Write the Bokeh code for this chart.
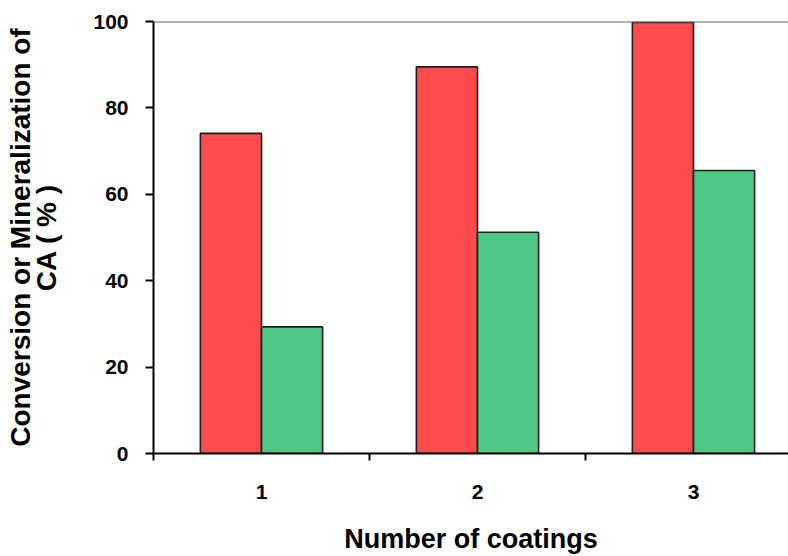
from bokeh.plotting import figure
from bokeh.models import Range1d, FixedTicker, Span, ColumnDataSource, LinearAxis
from bokeh.embed import file_html
from bokeh.resources import INLINE

# Data
categories = ["1", "2", "3"]
conversion = [74.1, 89.5, 99.8]
mineralization = [29.3, 51.2, 65.5]
y_ticks = [0, 20, 40, 60, 80, 100]

x_pos = [i + 1 for i in range(len(categories))]
bar_w = 0.283
src = ColumnDataSource(dict(
    x_red=[x - bar_w / 2 for x in x_pos],
    x_green=[x + bar_w / 2 for x in x_pos],
    conv=conversion,
    mine=mineralization,
))

p = figure(width=788, height=556, output_backend="svg", toolbar_location=None,
           x_range=Range1d(0.5, 3.44), y_range=Range1d(0, 100),
           min_border_left=153, min_border_right=0, min_border_top=21, min_border_bottom=102)

p.vbar(x="x_red", top="conv", width=bar_w, bottom=0, source=src,
       fill_color="#ff4b4b", line_color="#1e1e1e", line_width=1.6)
p.vbar(x="x_green", top="mine", width=bar_w, bottom=0, source=src,
       fill_color="#4dc884", line_color="#1e1e1e", line_width=1.6)

p.add_layout(Span(location=100, dimension="width", line_color="#666666", line_width=2))

p.grid.visible = False
p.outline_line_color = None
p.background_fill_color = "white"
p.border_fill_color = "white"

font = "Liberation Sans"

# x axis
xa = p.xaxis[0]
xa.ticker = FixedTicker(ticks=x_pos, minor_ticks=[0.5, 1.5, 2.5, 3.5])
xa.major_label_overrides = {x: c for x, c in zip(x_pos, categories)}
xa.major_tick_line_color = None
xa.major_tick_out = 0
xa.major_tick_in = 0
xa.minor_tick_out = 7
xa.minor_tick_in = 0
xa.minor_tick_line_color = "black"
xa.minor_tick_line_width = 2
xa.axis_line_color = "black"
xa.axis_line_width = 2
xa.major_label_standoff = 24
xa.major_label_text_font = font
xa.major_label_text_font_style = "bold"
xa.major_label_text_font_size = "21px"
xa.major_label_text_color = "black"
xa.axis_label = "Number of coatings"
xa.axis_label_text_font = font
xa.axis_label_text_font_style = "bold"
xa.axis_label_text_font_size = "27px"
xa.axis_label_text_color = "black"
xa.axis_label_standoff = 22

# y axis (inner: ticks + second label line)
ya = p.yaxis[0]
ya.ticker = FixedTicker(ticks=y_ticks, minor_ticks=[])
ya.major_tick_out = 8
ya.major_tick_in = 0
ya.major_tick_line_width = 2
ya.major_tick_line_color = "black"
ya.minor_tick_line_color = None
ya.axis_line_color = "black"
ya.axis_line_width = 2
ya.major_label_standoff = 17
ya.major_label_text_font = font
ya.major_label_text_font_style = "bold"
ya.major_label_text_font_size = "21px"
ya.major_label_text_color = "black"
ya.axis_label = "CA ( % )"
ya.axis_label_text_font = font
ya.axis_label_text_font_style = "bold"
ya.axis_label_text_font_size = "28px"
ya.axis_label_text_color = "black"
ya.axis_label_standoff = 28

# outer axis: first label line only
ya2 = LinearAxis(axis_label="Conversion or Mineralization of",
                 ticker=FixedTicker(ticks=[]),
                 axis_line_color=None, major_tick_line_color=None,
                 minor_tick_line_color=None, major_label_text_font_size="0px",
                 major_tick_out=0, major_tick_in=0, minor_tick_out=0, minor_tick_in=0,
                 axis_label_standoff=-7, axis_label_text_font=font,
                 axis_label_text_font_style="bold", axis_label_text_font_size="28px",
                 axis_label_text_color="black")
p.add_layout(ya2, "left")

open("out.html", "w").write(file_html(p, INLINE))
